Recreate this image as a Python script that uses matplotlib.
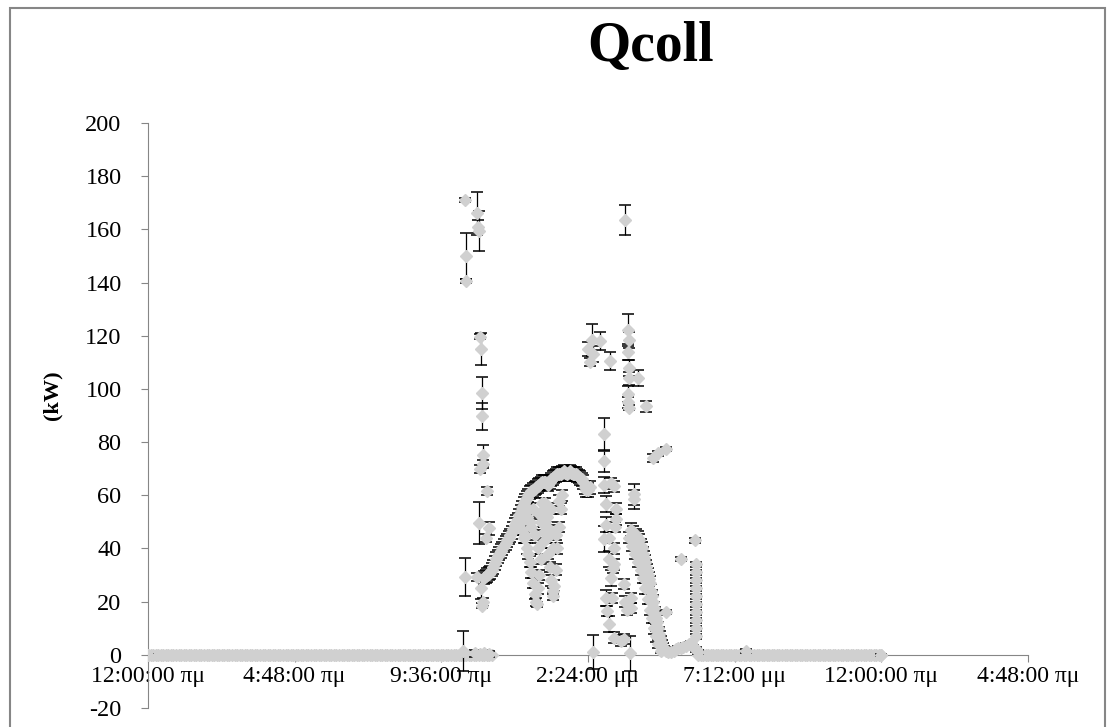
import numpy as np
import matplotlib
matplotlib.use("Agg")
import matplotlib.pyplot as plt
from matplotlib.patches import Rectangle

plt.rcParams['font.family'] = ['Liberation Serif', 'DejaVu Serif']
plt.rcParams['axes.unicode_minus'] = False

# axis ticks (x axis is in days, labels as in the original Greek locale)
tick_days = [0.0, 0.2, 0.4, 0.6, 0.8, 1.0, 1.2]
tick_labels = ['12:00:00 πμ', '4:48:00 πμ', '9:36:00 πμ', '2:24:00 μμ',
               '7:12:00 μμ', '12:00:00 πμ', '4:48:00 πμ']
y_ticks = [-20, 0, 20, 40, 60, 80, 100, 120, 140, 160, 180, 200]

# night periods where Qcoll reads 0 kW (hours), logger step
zero_spans_h = [(0.0, 11.25), (18.0, 24.0)]
log_step_h = 1 / 12

# main collector curve, late morning to early afternoon
main_start_h = 11.0
main_step_h = 0.05
main_kw = [29, 29.5, 30, 30.5, 31, 32, 33, 34.5, 36, 37,
           38, 39, 40, 41, 42, 43, 44, 45, 46, 47.5,
           49, 50, 51, 52.5, 54, 55.5, 57, 58, 59, 60,
           61, 61.5, 62, 62.5, 63, 63.5, 64, 64.5, 65, 65,
           65, 64.5, 64, 65, 66, 66.5, 67, 67.5, 68, 68,
           68, 68.5, 69, 68.5, 68, 68.5, 69, 68.5, 68, 68,
           68, 67.5, 67, 66.5, 66, 65, 63, 62, 62, 63]
main_err = 2.5

# lower branch (cloud dips) around midday
dip_h = [12.20, 12.25, 12.30, 12.35, 12.40, 12.45, 12.50, 12.55, 12.60, 12.65,
         12.70, 12.75, 12.80, 12.85, 12.90, 12.95, 13.00, 13.05, 13.10, 13.15,
         13.20, 13.25, 13.30, 13.35, 13.40, 13.45, 13.50, 13.55,
         12.40, 12.60, 12.80, 13.00, 13.20, 12.50, 12.90, 12.72, 13.27,
         12.45, 12.55, 12.65, 12.75, 12.85, 12.95, 13.05, 13.15, 13.25, 13.35,
         13.45]
dip_kw = [50, 47, 44, 45, 40, 38, 35, 31, 27, 23,
          20, 25, 30, 36, 42, 46, 50, 44, 38, 33,
          28, 22, 26, 32, 40, 48, 55, 60,
          52, 55, 53, 57, 55, 50, 57, 19, 24,
          55, 48, 45, 40, 50, 55, 52, 47, 40, 45,
          58]
dip_err = [2, 2, 2, 3, 2, 2, 2, 2, 2, 2,
           1.5, 2, 2, 2, 2, 2, 2, 2, 2, 2,
           2, 1.5, 2, 2, 2, 2, 2, 2,
           2, 2, 2, 2, 2, 2, 2, 1, 1,
           2, 2, 2, 2, 2, 2, 2, 2, 2, 2,
           2]

# morning spikes (around 10-11 h)
spike_h = [10.38, 10.40, 10.42, 10.78, 10.80, 10.82, 10.88, 10.90, 10.92, 10.94,
           10.95, 10.97, 10.86, 11.10, 10.82, 11.15, 11.05, 10.39, 10.76, 10.90,
           10.95, 10.93, 10.30, 10.70, 10.85, 11.00, 11.15]
spike_kw = [171, 150, 140.5, 166, 161, 159.5, 119.7, 115, 98.3, 89.7,
            75, 71.7, 70, 61.5, 49.5, 47.6, 44, 29.3, 29.3, 25,
            20, 18.5, 1.5, 0.5, 0.3, 0.5, 0.3]
spike_err = [0.8, 8.5, 0.8, 8, 2.5, 7.5, 1, 6, 6, 5,
             4, 1.5, 1.5, 1.5, 8, 2.5, 1.5, 7, 1.5, 4,
             1.5, 1, 7.5, 1.2, 1.2, 1.2, 1.2]

# afternoon scatter (14.4-17 h)
aft_h = [14.52, 14.55, 14.78, 15.12, 15.60, 15.72, 15.74, 15.70, 15.73, 15.75,
         15.71, 15.72, 15.74, 16.05, 16.30, 16.52, 16.69, 16.95, 14.92, 14.92,
         14.92, 15.25, 14.98, 15.31, 14.98, 14.92, 15.25, 15.08, 15.25, 15.15,
         14.98, 15.20, 15.57, 15.80, 15.80, 15.02, 15.08, 15.25, 15.48, 15.90,
         15.15, 15.33, 15.90, 15.22, 15.60, 15.68, 15.58, 15.10, 15.28, 14.55,
         15.77, 16.95, 14.40, 14.45]
aft_kw = [118.5, 113, 118, 110.5, 163.5, 122, 118.5, 114, 108, 104,
          98, 95, 93, 104, 93.5, 74, 75.8, 77.3, 83, 72.8,
          64, 63.4, 56.6, 55, 49, 43.5, 40, 36, 34, 29,
          21.4, 21.4, 26.6, 21.4, 17.6, 16.5, 11.6, 6.4, 5.3, 60.4,
          64.5, 51, 58.5, 32.6, 20, 17, 6, 44, 48, 1,
          0.5, 16, 115, 110]
aft_err = [6, 3, 3.5, 3.3, 5.7, 6, 3, 3, 3, 2.5,
           3, 2, 1, 3, 2, 1.5, 1, 0.8, 6, 4,
           3, 2, 3, 2, 3, 5, 2, 3, 2, 3,
           3, 2, 2, 2, 2, 2, 3, 2, 2, 4,
           2, 2, 3.5, 2, 2, 2, 2, 2, 2, 6.5,
           6.5, 0.8, 2.5, 1.5]

# afternoon fall-off of the collector output
desc_h = [15.80, 15.88, 15.97, 16.02, 16.07, 16.12, 16.16, 16.20, 16.23, 16.27,
          16.30, 16.33, 16.36, 16.40, 16.43, 16.46, 16.49, 16.52, 16.56, 16.59,
          16.62, 16.66, 16.69, 16.72, 16.76, 16.79, 16.82, 16.85, 16.90, 16.95,
          17.02, 17.11, 17.20, 17.28, 17.36, 17.44, 17.52, 17.61, 17.70, 17.77,
          17.85, 17.93, 18.00]
desc_kw = [47, 46, 45, 44, 43, 41, 40, 38, 36.5, 35,
           33, 31.5, 30, 28.5, 27, 24, 22, 20, 17.5, 15.5,
           14, 12.5, 10, 8, 6.5, 5, 3.5, 2.5, 2, 1.5,
           1, 1, 1.5, 2, 2.5, 2.5, 3, 3.5, 4, 4.5,
           3, 2, 1]
desc_err = [2.5, 2.5, 2.5, 2.5, 2.5, 2.5, 2.5, 2.5, 2.5, 2.5,
            2.5, 2.5, 2.5, 2.5, 2.5, 2.5, 2.5, 2.5, 2.5, 2.5,
            2.5, 2.5, 2.5, 2.5, 2.5, 2, 2, 2, 1.5, 1,
            0.8, 0.8, 0.8, 0.8, 0.8, 0.8, 0.8, 0.8, 0.8, 0.8,
            0.8, 0.8, 0.8]

# second, slightly earlier trace of the fall-off
desc2_h = [15.75, 15.85, 15.95, 16.05, 16.12, 16.20, 16.28, 16.35, 16.42, 16.48,
           16.55, 16.62, 16.70, 16.78]
desc2_kw = [44, 41, 38, 35, 32, 29, 25, 21, 17, 14,
            10, 7, 4, 1.5]
desc2_err = [2, 2, 2, 2, 2, 2, 2, 2, 2, 2,
             2, 2, 1.5, 1]

# late afternoon stack and isolated evening readings
late_h = [17.93, 17.93, 17.93, 17.93, 17.93, 17.93, 17.93, 17.93, 17.93, 17.93,
          17.90, 17.44, 19.57, 24.0, 0.0]
late_kw = [34, 31, 28, 25, 22, 19, 16, 13, 10, 7,
           43, 36, 1.5, 0, 0]
late_err = [1, 1, 1, 1, 1, 1, 1, 1, 1, 1,
            0.8, 0.8, 0.8, 0.3, 0.3]

marker_gray = '#d0d0d0'
axis_gray = '#868686'

fig = plt.figure(figsize=(11.08, 7.27), dpi=100)
ax = fig.add_axes([148 / 1108, 1 - 708 / 727, 880 / 1108, 585 / 727])

# zero readings during the night
for start, end in zero_spans_h:
    hz = np.arange(start, end + 1e-9, log_step_h)
    ax.plot(hz / 24, np.zeros_like(hz), 'D', ms=6, color=marker_gray,
            zorder=3)


def draw(hours, kw, err):
    ax.errorbar(np.asarray(hours) / 24, kw, yerr=err, fmt='D', ms=6.5,
                mfc=marker_gray, mec=marker_gray, ecolor='black',
                elinewidth=0.9, capsize=4, capthick=1.1, zorder=3)


main_h = main_start_h + main_step_h * np.arange(len(main_kw))
draw(main_h, main_kw, main_err)
draw(dip_h, dip_kw, dip_err)
draw(spike_h, spike_kw, spike_err)
draw(aft_h, aft_kw, aft_err)
draw(desc_h, desc_kw, desc_err)
draw(desc2_h, desc2_kw, desc2_err)
draw(late_h, late_kw, late_err)

ax.set_xlim(0, 1.2)
ax.set_ylim(-20, 200)
ax.set_xticks(tick_days)
ax.set_xticklabels(tick_labels)
ax.set_yticks(y_ticks)

for s in ['top', 'right']:
    ax.spines[s].set_visible(False)
ax.spines['bottom'].set_position(('data', 0))
ax.spines['bottom'].set_color(axis_gray)
ax.spines['left'].set_color(axis_gray)
ax.tick_params(axis='x', direction='out', length=5, color=axis_gray,
               pad=3, labelsize=17)
ax.tick_params(axis='y', direction='out', length=5, color=axis_gray,
               pad=14, labelsize=17.5)

fig.text(651 / 1108, 1 - 47 / 727, 'Qcoll', ha='center', va='center',
         fontsize=40, fontweight='bold')
fig.text(52 / 1108, 1 - 395 / 727, '(kW)', ha='center', va='center',
         rotation=90, fontsize=16, fontweight='bold')

# chart-area border
fig.patches.append(Rectangle((10 / 1108, -0.05), 1095 / 1108, 1.05 - 8 / 727,
                             transform=fig.transFigure, fill=False,
                             edgecolor=axis_gray, linewidth=1.5))

fig.savefig('out.png', dpi=100)
